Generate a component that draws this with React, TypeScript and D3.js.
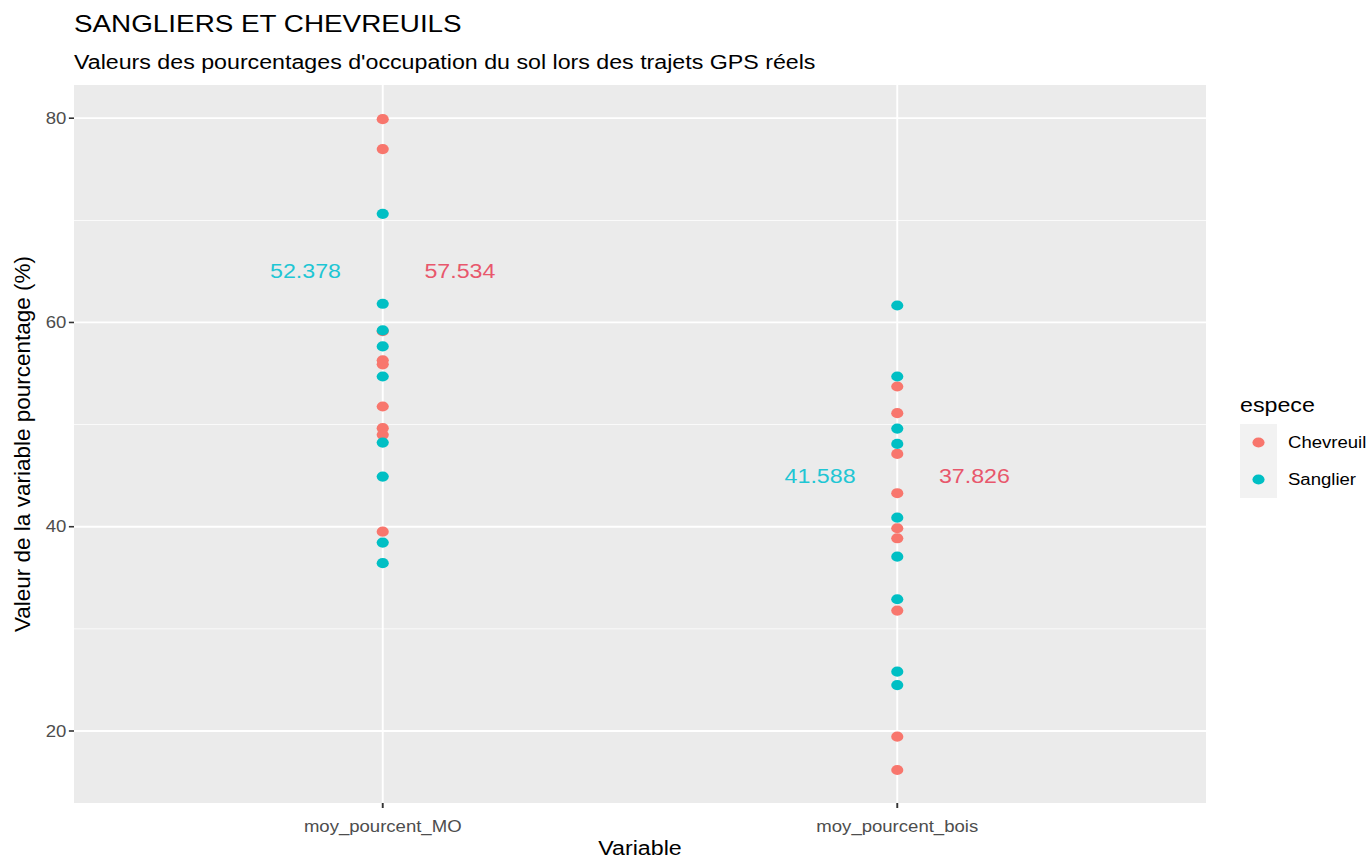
import React from "react";
import * as d3 from "d3";

const categories = ["moy_pourcent_MO", "moy_pourcent_bois"];
const species = ["Chevreuil", "Sanglier"];
const speciesColors = ["#F8766D", "#00BFC4"];
const labelColors = ["#E8576C", "#1FC6D4"];

// values per category per species
const chevreuilMO = [79.9, 76.98, 59.15, 56.3, 55.9, 51.77, 49.65, 49.0, 39.52];
const sanglierMO = [70.64, 61.83, 59.22, 57.65, 54.71, 48.24, 44.91, 38.45, 36.43];
const chevreuilBois = [53.73, 51.12, 47.13, 43.28, 39.85, 38.87, 31.79, 19.44, 16.18];
const sanglierBois = [61.66, 54.71, 49.61, 48.11, 40.89, 37.07, 32.9, 25.81, 24.5];

const meanLabels = [
  { cat: "moy_pourcent_MO", sp: "Sanglier", text: "52.378", y: 65, dx: -0.15 },
  { cat: "moy_pourcent_MO", sp: "Chevreuil", text: "57.534", y: 65, dx: 0.15 },
  { cat: "moy_pourcent_bois", sp: "Sanglier", text: "41.588", y: 45, dx: -0.15 },
  { cat: "moy_pourcent_bois", sp: "Chevreuil", text: "37.826", y: 45, dx: 0.15 },
];

const yTicks = [20, 40, 60, 80];
const yMinor = [30, 50, 70];
const yDomain = [12.95, 83.25];

const W = 1372, H = 859;
const SX = 1.19; // horizontal stretch of the original picture
const ix = (v: number) => v / SX; // real x -> inner x
const panel = { left: ix(74), right: ix(1206), top: 85, bottom: 803 };
const font = "'Liberation Sans', Arial, sans-serif";
const base = 19.5;
const small = 15.6;

export default function App() {
  const x = d3.scalePoint<string>().domain(categories).range([panel.left, panel.right]).padding(0.6);
  const step = x.step();
  const y = d3.scaleLinear().domain(yDomain).range([panel.bottom, panel.top]);
  const color = d3.scaleOrdinal<string, string>().domain(species).range(speciesColors);
  const lcolor = d3.scaleOrdinal<string, string>().domain(species).range(labelColors);

  const points: { cat: string; sp: string; v: number }[] = [];
  chevreuilMO.forEach((v) => points.push({ cat: categories[0], sp: "Chevreuil", v }));
  chevreuilBois.forEach((v) => points.push({ cat: categories[1], sp: "Chevreuil", v }));
  sanglierMO.forEach((v) => points.push({ cat: categories[0], sp: "Sanglier", v }));
  sanglierBois.forEach((v) => points.push({ cat: categories[1], sp: "Sanglier", v }));

  return (
    <svg width={W} height={H} style={{ position: "absolute", left: 0, top: 0, background: "#fff" }} fontFamily={font}>
      <rect x={0} y={0} width={W} height={H} fill="#fff" />
      <g transform={`scale(${SX},1)`}>
        <text x={panel.left} y={32} fontSize={base * 1.2} fill="#000">SANGLIERS ET CHEVREUILS</text>
        <text x={panel.left} y={69} fontSize={base} fill="#000">Valeurs des pourcentages d'occupation du sol lors des trajets GPS réels</text>

        <rect x={panel.left} y={panel.top} width={panel.right - panel.left} height={panel.bottom - panel.top} fill="#EBEBEB" />
        {yMinor.map((t) => (
          <line key={"m" + t} x1={panel.left} x2={panel.right} y1={y(t)} y2={y(t)} stroke="#fff" strokeWidth={0.9} />
        ))}
        {yTicks.map((t) => (
          <line key={"M" + t} x1={panel.left} x2={panel.right} y1={y(t)} y2={y(t)} stroke="#fff" strokeWidth={1.8} />
        ))}
        {categories.map((c) => (
          <line key={c} x1={x(c)} x2={x(c)} y1={panel.top} y2={panel.bottom} stroke="#fff" strokeWidth={1.6} />
        ))}

        {points.map((p, i) => (
          <circle key={i} cx={x(p.cat)} cy={y(p.v)} r={5.1} fill={color(p.sp)} />
        ))}

        {meanLabels.map((l, i) => (
          <text key={i} x={(x(l.cat) as number) + l.dx * step} y={y(l.y)} dy="0.36em" textAnchor="middle" fontSize={base} fill={lcolor(l.sp)}>
            {l.text}
          </text>
        ))}

        {yTicks.map((t) => (
          <g key={"t" + t}>
            <line x1={panel.left - 4.3} x2={panel.left} y1={y(t)} y2={y(t)} stroke="#333" strokeWidth={1.6} />
            <text x={panel.left - 6.5} y={y(t)} dy="0.36em" textAnchor="end" fontSize={small} fill="#4D4D4D">{t}</text>
          </g>
        ))}
        {categories.map((c) => (
          <g key={"x" + c}>
            <line x1={x(c)} x2={x(c)} y1={panel.bottom} y2={panel.bottom + 5} stroke="#333" strokeWidth={1.6} />
            <text x={x(c)} y={panel.bottom + 29} textAnchor="middle" fontSize={small} fill="#4D4D4D">{c}</text>
          </g>
        ))}
        <text x={(panel.left + panel.right) / 2} y={855} textAnchor="middle" fontSize={base} fill="#000">Variable</text>

        <text x={ix(1240)} y={412} fontSize={base} fill="#000">espece</text>
        {species.map((s, i) => (
          <g key={s}>
            <rect x={ix(1240)} y={424 + i * 37} width={ix(37)} height={37} fill="#F2F2F2" />
            <circle cx={ix(1258.5)} cy={442.5 + i * 37} r={5.1} fill={color(s)} />
            <text x={ix(1288)} y={442.5 + i * 37} dy="0.36em" fontSize={small} fill="#000">{s}</text>
          </g>
        ))}
      </g>
      <text transform={`translate(30,${(85 + 803) / 2}) rotate(-90)`} textAnchor="middle" fontSize={22.5} fill="#000">
        Valeur de la variable pourcentage (%)
      </text>
    </svg>
  );
}
